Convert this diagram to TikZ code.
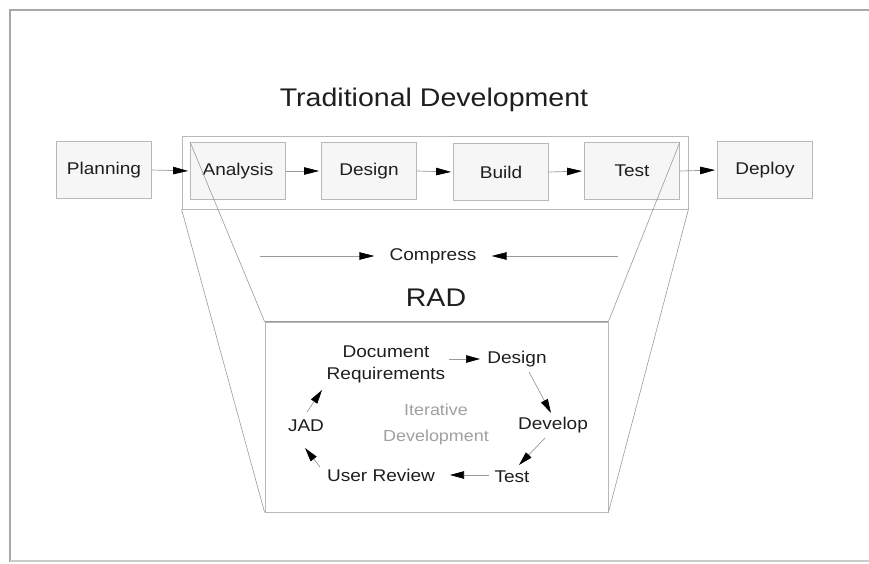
\documentclass[tikz,border=0pt]{standalone}
\usepackage{fontspec}
\setmainfont{Liberation Sans}[FakeStretch=1.12]
\usetikzlibrary{arrows.meta}
\definecolor{txt}{HTML}{1E1E1E}
\definecolor{boxline}{HTML}{B8B8B8}
\definecolor{boxfill}{HTML}{F6F6F6}
\definecolor{ln}{HTML}{9A9A9A}
\definecolor{frame}{HTML}{A8A8A8}
\definecolor{soft}{HTML}{A0A0A0}
\tikzset{
  stage/.style={draw=boxline, fill=boxfill, line width=0.8pt, minimum width=95pt, minimum height=57pt, inner sep=0pt, text=txt, font=\fontsize{17}{20}\selectfont},
  lbl/.style={text=txt, font=\fontsize{17}{22}\selectfont, inner sep=1pt, align=center},
  title/.style={text=txt, font=\fontsize{25.5}{28}\selectfont, inner sep=0pt},
  conn/.style={draw=ln, line width=0.7pt, -{Triangle[length=15pt,width=7.5pt,color=black]}},
  iconn/.style={draw=ln, line width=0.7pt, -{Triangle[length=14pt,width=7.5pt,color=black]}},
  funnel/.style={draw=ln, line width=0.6pt},
}
\begin{document}
\begin{tikzpicture}[x=1pt,y=-1pt]
\useasboundingbox (0,0) rectangle (869,564);
% outer frame
\draw[frame, line width=1.6pt] (10,562) -- (10,10) -- (880,10);
\draw[frame!60, line width=1.6pt] (10,561) -- (880,561);

\node[title] (trad) at (434,100) {Traditional Development};

% container of the compressed stages
\node[draw=boxline, line width=0.8pt, minimum width=506pt, minimum height=73pt, inner sep=0pt] (cont) at (435,172.5) {};

\node[stage] (plan) at (104,170) {Planning};
\node[stage] (ana)  at (238,171) {Analysis};
\node[stage] (des1) at (369,171) {Design};
\node[stage] (bld)  at (501,172) {Build};
\node[stage] (tst1) at (632,171) {Test};
\node[stage] (dep)  at (765,170) {Deploy};

\draw[conn, shorten >=2pt] (plan.east) -- (ana.west);
\draw[conn, shorten >=2pt] (ana.east) -- (des1.west);
\draw[conn, shorten >=2pt] (des1.east) -- (bld.west);
\draw[conn, shorten >=2pt] (bld.east) -- (tst1.west);
\draw[conn, shorten >=2pt] (tst1.east) -- (dep.west);

% compress
\node[lbl] (comp) at (433,256) {Compress};
\coordinate (cl) at (260,256);
\coordinate (cr) at (618,256);
\draw[conn, shorten >=14pt] (cl) -- (comp.west);
\draw[conn, shorten >=14pt] (cr) -- (comp.east);

\node[title] (rad) at (436,298) {RAD};

% RAD box
\node[draw=boxline, line width=0.8pt, minimum width=343pt, minimum height=190pt, inner sep=0pt] (radbox) at (436.5,417) {};
\draw[ln, line width=1.6pt] (radbox.north west) -- (radbox.north east);

% funnel lines
\draw[funnel] (ana.north west) -- (radbox.north west);
\draw[funnel] (cont.south west) -- (radbox.south west);
\draw[funnel] (tst1.north east) -- (radbox.north east);
\draw[funnel] (cont.south east) -- (radbox.south east);

% iterative cycle
\node[lbl] (dr)  at (386,364) {Document\\Requirements};
\node[lbl] (des) at (517,359) {Design};
\node[lbl] (dev) at (553,425) {Develop};
\node[lbl] (tst) at (512,477) {Test};
\node[lbl] (ur)  at (381,475) {User Review};
\node[lbl] (jad) at (306,426) {JAD};
\node[lbl, text=soft, font=\fontsize{16}{26}\selectfont] (itd) at (436,424) {Iterative\\Development};

\draw[iconn] ([shift={(63,-5)}]dr.center) -- ([shift={(-37,0)}]des.center);
\draw[iconn] ([shift={(12,13)}]des.center) -- ([shift={(-2,-12)}]dev.center);
\draw[iconn] ([shift={(-8,13)}]dev.center) -- ([shift={(7,-12)}]tst.center);
\draw[iconn] ([shift={(-23,-2)}]tst.center) -- ([shift={(69,0)}]ur.center);
\draw[iconn] ([shift={(-61,-8)}]ur.center) -- ([shift={(-1,22)}]jad.center);
\draw[iconn] ([shift={(1,-14)}]jad.center) -- ([shift={(-64,26)}]dr.center);
\end{tikzpicture}
\end{document}
